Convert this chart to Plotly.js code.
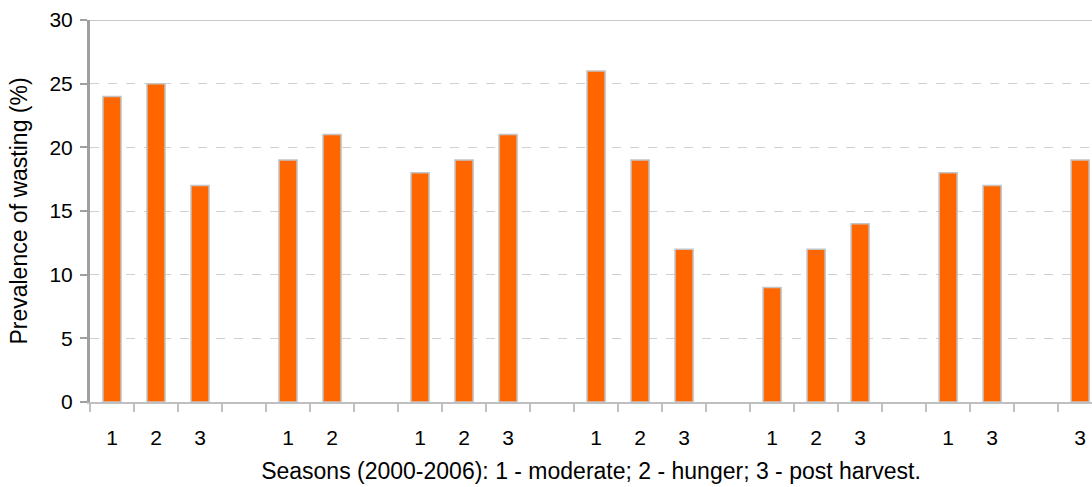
<!DOCTYPE html>
<html>
<head>
<meta charset="utf-8">
<script src="https://cdn.plot.ly/plotly-3.0.1.min.js"></script>
<style>
  html, body { margin: 0; padding: 0; background: #fff; overflow: hidden; }
  #chart { width: 1092px; height: 487px; }
</style>
</head>
<body>
<div id="chart"></div>
<script>
// Season codes per slot (empty string = gap between years)
const seasonLabels = ['1','2','3','', '1','2','', '1','2','3','', '1','2','3','', '1','2','3','', '1','3','', '3'];
// Prevalence of wasting (%) per slot (null = gap)
const wasting = [24,25,17,null, 19,21,null, 18,19,21,null, 26,19,12,null, 9,12,14,null, 18,17,null, 19];
const yTicks = [0,5,10,15,20,25,30];

const slots = seasonLabels.map((_, i) => i);
const boundaries = slots.map(i => i - 0.5).concat([slots.length - 0.5]);

const font = 'Liberation Sans, Arial, sans-serif';

const trace = {
  type: 'bar',
  x: slots,
  y: wasting,
  width: 0.41,
  marker: { color: '#FF6600', line: { color: '#c4c4c4', width: 1.5 } },
  hoverinfo: 'y'
};

const layout = {
  width: 1092,
  height: 487,
  margin: { l: 90, r: 0, t: 20, b: 85 },
  paper_bgcolor: '#ffffff',
  plot_bgcolor: '#ffffff',
  showlegend: false,
  font: { family: font, size: 21, color: '#000' },
  xaxis: {
    range: [-0.5, 22.27],
    tickmode: 'array',
    tickvals: slots,
    ticktext: seasonLabels,
    ticks: 'outside',
    ticklen: 16,
    tickcolor: 'rgba(0,0,0,0)',
    tickfont: { family: font, size: 21, color: '#000' },
    showgrid: false,
    zeroline: false,
    showline: true,
    linecolor: '#c0c0c0',
    linewidth: 2,
    minor: {
      tickmode: 'array',
      tickvals: boundaries,
      ticks: 'outside',
      ticklen: 8,
      tickwidth: 2,
      tickcolor: '#c0c0c0',
      showgrid: false
    },
    title: {
      text: 'Seasons (2000-2006): 1 - moderate; 2 - hunger; 3 - post harvest.',
      font: { family: font, size: 23, color: '#000' },
      standoff: 15
    },
    fixedrange: true
  },
  yaxis: {
    range: [0, 30],
    tickmode: 'array',
    tickvals: yTicks,
    ticks: 'outside',
    ticklen: 7,
    tickwidth: 2,
    tickcolor: '#a0a0a0',
    ticklabelstandoff: 3,
    tickfont: { family: font, size: 21, color: '#000' },
    showgrid: true,
    gridcolor: '#d0d0d0',
    griddash: 'dash',
    gridwidth: 1,
    zeroline: false,
    showline: true,
    linecolor: '#a0a0a0',
    linewidth: 3,
    title: {
      text: 'Prevalence of wasting (%)',
      font: { family: font, size: 23, color: '#000' },
      standoff: 16
    },
    fixedrange: true
  },
  shapes: [{
    type: 'line', xref: 'paper', yref: 'y',
    x0: 0, x1: 1, y0: 30, y1: 30,
    line: { color: '#c8c8c8', width: 2 }
  }]
};

Plotly.newPlot('chart', [trace], layout, { displayModeBar: false, staticPlot: true });
</script>
</body>
</html>
